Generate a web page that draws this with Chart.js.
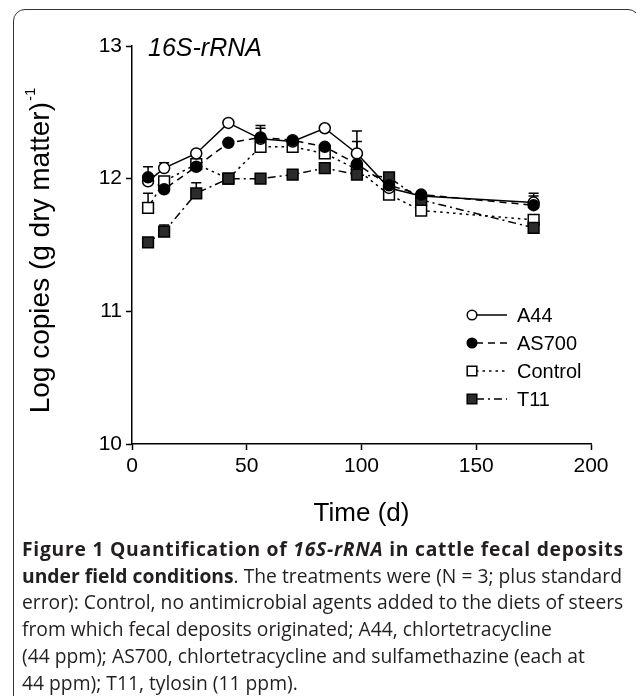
<!DOCTYPE html>
<html>
<head>
<meta charset="utf-8">
<script src="https://cdn.jsdelivr.net/npm/chart.js@4.4.1/dist/chart.umd.min.js"></script>
<style>
  html, body { margin: 0; padding: 0; background: #fff; }
  body { width: 636px; height: 696px; overflow: hidden; position: relative; }
  #frame {
    position: absolute; left: 13px; top: 9px; width: 627px; height: 760px;
    border: 1.6px solid #333; border-radius: 12px; box-sizing: border-box;
  }
  #chart { position: absolute; left: 0; top: 0; }
  #caption {
    position: absolute; left: 22px; top: 536px;
    font-family: "Open Sans", "Noto Sans", sans-serif; font-size: 19.3px;
    line-height: 26.7px; color: #231f20; white-space: nowrap;
  }
  #caption .head { letter-spacing: 0.75px; }
</style>
</head>
<body>
<div id="frame"></div>
<canvas id="chart" width="636" height="540"></canvas>
<div id="caption">
  <div class="head"><b>Figure 1 Quantification of <i>16S-rRNA</i> in cattle fecal deposits</b></div>
  <div><b>under field conditions</b>. The treatments were (N = 3; plus standard</div>
  <div>error): Control, no antimicrobial agents added to the diets of steers</div>
  <div>from which fecal deposits originated; A44, chlortetracycline</div>
  <div>(44 ppm); AS700, chlortetracycline and sulfamethazine (each at</div>
  <div>44 ppm); T11, tylosin (11 ppm).</div>
</div>
<script>
// sampling days
const days = [7, 14, 28, 42, 56, 70, 84, 98, 112, 126, 175];

// log copies per treatment
const a44 = [11.98, 12.08, 12.19, 12.42, 12.30, 12.28, 12.38, 12.19, 11.93, 11.87, 11.82];
const as700 = [12.01, 11.92, 12.09, 12.27, 12.31, 12.29, 12.24, 12.11, 11.95, 11.88, 11.80];
const control = [11.78, 11.98, 12.11, 12.00, 12.24, 12.24, 12.19, 12.07, 11.88, 11.76, 11.69];
const t11 = [11.52, 11.60, 11.89, 12.00, 12.00, 12.03, 12.08, 12.03, 12.01, 11.84, 11.63];

// plus standard error
const a44Se = [0.02, 0.04, 0.02, 0.02, 0.10, 0.02, 0.02, 0.17, 0.02, 0.02, 0.07];
const as700Se = [0.08, 0.02, 0.02, 0.02, 0.07, 0.02, 0.02, 0.17, 0.02, 0.02, 0.07];
const controlSe = [0.11, 0.02, 0.02, 0.02, 0.02, 0.02, 0.02, 0.02, 0.02, 0.02, 0.02];
const t11Se = [0.02, 0.05, 0.08, 0.02, 0.02, 0.02, 0.02, 0.02, 0.02, 0.02, 0.02];

const xTicks = [0, 50, 100, 150, 200];
const yTicks = [10, 11, 12, 13];

const FONT = "'Liberation Sans', Arial, sans-serif";

function toPoints(values) {
  return days.map((d, i) => ({ x: d, y: values[i] }));
}

// first dataset is drawn on top
const series = [
  { label: "AS700", values: as700, se: as700Se, style: "circle", fill: "#000", dash: [7, 5], radius: 5.5 },
  { label: "T11", values: t11, se: t11Se, style: "rect", fill: "#2b2b2b", dash: [8, 4, 2, 4], radius: 7.6 },
  { label: "A44", values: a44, se: a44Se, style: "circle", fill: "#fff", dash: [], radius: 5.5 },
  { label: "Control", values: control, se: controlSe, style: "rect", fill: "#fff", dash: [2.5, 4], radius: 7.6 }
];

const legendOrder = ["A44", "AS700", "Control", "T11"];

const errorBars = {
  id: "errorBars",
  beforeDatasetsDraw(chart) {
    const ctx = chart.ctx;
    const x = chart.scales.x;
    const y = chart.scales.y;
    ctx.save();
    ctx.strokeStyle = "#000";
    ctx.lineWidth = 1.5;
    series.forEach(s => {
      s.values.forEach((v, i) => {
        const px = x.getPixelForValue(days[i]);
        const py = y.getPixelForValue(v);
        const top = y.getPixelForValue(v + s.se[i]);
        ctx.beginPath();
        ctx.moveTo(px, py);
        ctx.lineTo(px, top);
        ctx.moveTo(px - 5, top);
        ctx.lineTo(px + 5, top);
        ctx.stroke();
      });
    });
    ctx.restore();
  }
};

function drawMarker(ctx, s, x, y, r) {
  ctx.fillStyle = s.fill;
  ctx.strokeStyle = "#000";
  ctx.lineWidth = 1.5;
  ctx.beginPath();
  if (s.style === "circle") {
    ctx.arc(x, y, r, 0, Math.PI * 2);
  } else {
    const h = r * Math.SQRT1_2;
    ctx.rect(x - h, y - h, h * 2, h * 2);
  }
  ctx.fill();
  ctx.stroke();
}

const extras = {
  id: "extras",
  afterDraw(chart) {
    const ctx = chart.ctx;
    const area = chart.chartArea;
    ctx.save();

    // panel title
    ctx.fillStyle = "#000";
    ctx.font = "italic 25px " + FONT;
    ctx.textBaseline = "middle";
    ctx.textAlign = "left";
    ctx.fillText("16S-rRNA", area.left + 16, area.top + 3);

    // legend
    ctx.font = "20px " + FONT;
    legendOrder.forEach((name, i) => {
      const s = series.find(d => d.label === name);
      const ly = 315 + i * 28;
      const mx = 472;
      ctx.strokeStyle = "#000";
      ctx.lineWidth = 1.5;
      ctx.setLineDash(s.dash);
      ctx.beginPath();
      ctx.moveTo(mx + 4, ly);
      ctx.lineTo(mx + 35, ly);
      ctx.stroke();
      ctx.setLineDash([]);
      drawMarker(ctx, s, mx, ly, s.style === "circle" ? 4.8 : 6.8);
      ctx.fillStyle = "#000";
      ctx.fillText(name, 517, ly + 1);
    });

    // y axis title with superscript
    const main = "Log copies (g dry matter)";
    const sup = "-1";
    ctx.font = "28px " + FONT;
    const wMain = ctx.measureText(main).width;
    ctx.font = "15px " + FONT;
    const wSup = ctx.measureText(sup).width;
    ctx.translate(41, 251);
    ctx.rotate(-Math.PI / 2);
    const start = -(wMain + wSup) / 2;
    ctx.font = "28px " + FONT;
    ctx.fillText(main, start, 0);
    ctx.font = "15px " + FONT;
    ctx.fillText(sup, start + wMain + 1, -10);
    ctx.restore();
  }
};

const datasets = series.map(s => ({
  label: s.label,
  data: toPoints(s.values),
  borderColor: "#000",
  borderWidth: 1.5,
  borderDash: s.dash,
  pointStyle: s.style,
  pointRadius: s.radius,
  pointBackgroundColor: s.fill,
  pointBorderColor: "#000",
  pointBorderWidth: 1.5,
  tension: 0,
  fill: false
}));

const axisTicks = { color: "#000", font: { family: FONT, size: 21 } };

new Chart(document.getElementById("chart").getContext("2d"), {
  type: "line",
  data: { datasets: datasets },
  options: {
    responsive: false,
    animation: false,
    devicePixelRatio: 1,
    layout: { padding: { top: 46, right: 45, left: 0, bottom: 0 } },
    plugins: { legend: { display: false }, tooltip: { enabled: false } },
    scales: {
      x: {
        type: "linear",
        min: xTicks[0],
        max: xTicks[xTicks.length - 1],
        afterBuildTicks(scale) { scale.ticks = xTicks.map(v => ({ value: v })); },
        ticks: Object.assign({ padding: 4, maxRotation: 0 }, axisTicks),
        grid: { drawOnChartArea: false, tickLength: 6, color: "#000", tickWidth: 1.5 },
        border: { color: "#000", width: 1.5 },
        title: { display: true, text: "Time (d)", color: "#000", font: { family: FONT, size: 26 }, padding: { top: 0, bottom: 11 } },
        afterFit(scale) { scale.height = 96; }
      },
      y: {
        min: yTicks[0],
        max: yTicks[yTicks.length - 1],
        afterBuildTicks(scale) { scale.ticks = yTicks.map(v => ({ value: v })); },
        ticks: Object.assign({ padding: 4 }, axisTicks),
        grid: { drawOnChartArea: false, tickLength: 6, color: "#000", tickWidth: 1.5 },
        border: { color: "#000", width: 1.5 },
        afterFit(scale) { scale.width = 132; }
      }
    }
  },
  plugins: [errorBars, extras]
});
</script>
</body>
</html>
